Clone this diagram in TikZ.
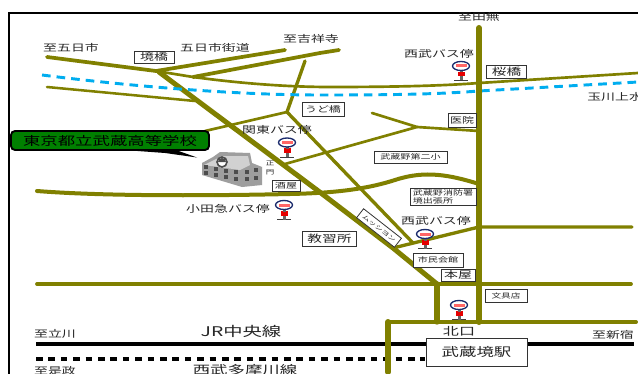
\documentclass[tikz,border=0pt]{standalone}
\usepackage{fontspec}
\newfontfamily\jp[FakeStretch=1.45]{Noto Sans CJK JP}
\newcommand{\jpsz}[1]{\jp\fontsize{#1}{#1}\selectfont}
\definecolor{road}{HTML}{808000}
\definecolor{busblue}{HTML}{1A2A6C}
\tikzset{
  roadline/.style={draw=road,line width=#1,line cap=round,line join=round},
  txt/.style={font=\jpsz{7.2},inner sep=0pt,text=black!85},
  boxed/.style={draw=black!80,fill=white,line width=.6pt,inner sep=0pt,anchor=center,text=black!85},
  busstop/.pic={
    \fill[black!75] (-7,9.5) rectangle (7,10.5);
    \fill[black!60] (-1.5,5) rectangle (1.5,10);
    \fill[red!90!black] (-3.5,1.5) rectangle (3.5,6);
    \fill[black!60] (-1.5,-.5) rectangle (1.5,2);
    \draw[busblue,fill=white,line width=1pt] (0,-4.5) ellipse (8.5 and 4.5);
    \fill[red!60!white] (-5.5,-6) rectangle (5.5,-3);
  },
}
\begin{document}
\begin{tikzpicture}[x=.75pt,y=-.75pt]
\useasboundingbox (0,0) rectangle (638,374);
\fill[white] (0,0) rectangle (638,374);
% frame
\coordinate (fa) at (9,374); \coordinate (fb) at (9,13); \coordinate (fc) at (638,13);
\draw[black,line width=1.25pt] (fa) -- (fb) -- (fc);
% roads
\coordinate (sk) at (156,71); \coordinate (ji) at (193,77); \coordinate (ud) at (287,112);
\coordinate (kk) at (417,127);
\path[roadline=1.9pt] (47,87) -- (195,101);
\path[roadline=2pt] (sk) -- (ji) .. controls (230,82) and (280,87) .. (330,87) .. controls (390,87) and (440,86) .. (479,83) -- (638,73);
\path[roadline=2.8pt] (47,57) -- (sk) -- (285,50);
\path[roadline=2.8pt] (ji) -- (320,53) -- (339,50);
\path[roadline=2.5pt] (305,61) -- (ud);
\path[roadline=2pt] (ud) -- (205,131);
\path[roadline=2.5pt] (ud) -- (360,188) -- (413,243);
\path[roadline=2pt] (285,164) -- (kk) -- (372,113);
\path[roadline=2pt] (kk) -- (479,131);
\path[roadline=3pt] (37,191) .. controls (100,196) and (200,196) .. (290,194) .. controls (340,193) and (370,188) .. (395,180) .. controls (425,170) and (450,175) .. (479,184);
\path[roadline=3.75pt] (159,72) -- (317,190) -- (393,248) -- (437,284);
\path[roadline=2.5pt] (393,248) -- (479,227) -- (632,227);
\path[roadline=2.8pt] (37,284) -- (631,284);
\path[draw=cyan,line width=2.2pt,dash pattern=on 6.5pt off 4.5pt] (42,75) .. controls (120,85) and (230,95) .. (320,95) .. controls (400,95) and (440,94) .. (479,91) -- (638,82);
\path[roadline=4.5pt] (479,28) -- (479,322);
\path[roadline=4pt] (437,284) -- (437,322);
\path[roadline=3pt] (636,322) -- (388,322);
% rails
\coordinate (rl) at (36,344); \coordinate (rr) at (634,344);
\draw[black,line width=3pt] (rl) -- (rr);
\coordinate (dl) at (36,359); \coordinate (dr) at (425,359);
\draw[black,line width=3pt,dash pattern=on 5pt off 4.3pt] (dl) -- (dr);
\path[roadline=4.5pt] (388,322) -- (388,372);
% station
\node[boxed,minimum width=75.7pt,minimum height=21pt,font=\jpsz{9}] (eki) at (476.5,352) {武蔵境駅};
% callout
\fill[black] (110,149) -- (165,153) -- (197,157.5) -- (173,149) -- cycle;
\draw[black,fill=green!50!black,line width=1.4pt,rounded corners=3pt] (11,131) rectangle (209,150);
\node[font=\jpsz{9},inner sep=0pt] (school) at (110,140.5) {東京都立武蔵高等学校};
% building
\fill[black!38] (202,163) -- (213,157) -- (220,152) -- (250,153) -- (252,163) -- (262,167) -- (262,185) -- (242,187) -- (202,175) -- cycle;
\fill[black!18] (204,165) -- (214,160) -- (222,156) -- (248,156) -- (250,165) -- (240,170) -- cycle;
\foreach \px/\py in {206/167,206/173,216/169,216/175,226/171,226/177,236/172,236/179,247/172,247/179,256/170,256/178}
  \fill[black!70] (\px-2,\py-2) rectangle (\px+2,\py+2);
\draw[black!70,fill=white,line width=1.2pt] (222,162) circle (5);
\fill[black!70] (218,162) arc (180:360:4);
% bus stops
\pic (bs1) at (287,147) {busstop};
\pic (bs2) at (284,209.5) {busstop};
\pic (bs3) at (461,70.5) {busstop};
\pic (bs4) at (425,238.5) {busstop};
\pic (bs5) at (459,309.5) {busstop};
% labels
\node[txt] (t1) at (71,48) {至五日市};
\node[txt] (t2) at (215,48) {五日市街道};
\node[txt] (t3) at (311,39) {至吉祥寺};
\node[txt] (t4) at (479,17) {至田無};
\node[txt] (t5) at (439,54) {西武バス停};
\node[txt,anchor=west] (t6) at (587,97) {玉川上水};
\node[txt] (t7) at (277,130) {関東バス停};
\node[txt] (t8) at (228,209) {小田急バス停};
\node[txt] (t9) at (436,221) {西武バス停};
\node[txt,font=\jpsz{8.3}] (t10) at (459,331) {北口};
\node[txt] (t11) at (613,335) {至新宿};
\node[txt] (t12) at (55,334) {至立川};
\node[txt,font=\jpsz{10}] (t13) at (241,331) {JR中央線};
\node[txt] (t14) at (55,371) {至是政};
\node[txt,font=\jpsz{9}] (t15) at (245,370) {西武多摩川線};
\node[txt,align=center,font=\jp\fontsize{4.4}{6.8}\selectfont] (t16) at (270,168) {正\\門};
% boxes
\node[boxed,font=\jpsz{7.2},minimum width=30pt,minimum height=9pt] (b1) at (154,57) {境橋};
\node[boxed,font=\jpsz{7.6},minimum width=30.5pt,minimum height=10pt] (b2) at (506.5,72) {桜橋};
\node[boxed,font=\jpsz{6.2},minimum width=31.5pt,minimum height=10.5pt] (b3) at (323,109) {うど橋};
\node[boxed,font=\jpsz{6.2},minimum width=21pt,minimum height=10.5pt] (b4) at (462,120) {医院};
\node[boxed,font=\jpsz{5.2},minimum width=54.7pt,minimum height=9pt] (b5) at (410.5,157) {武蔵野第二小};
\node[boxed,font=\jpsz{5.7},minimum width=21pt,minimum height=8.2pt] (b6) at (286,185.5) {酒屋};
\node[boxed,align=left,font=\jp\fontsize{5.2}{6}\selectfont,minimum width=49.5pt,minimum height=12.7pt] (b7) at (443,196.5) {武蔵野消防署\\境出張所};
\node[boxed,font=\jpsz{7.6},minimum width=41pt,minimum height=11.2pt] (b8) at (329.5,238.5) {教習所};
\node[boxed,font=\jpsz{5.2},minimum width=37.5pt,minimum height=10.5pt] (b9) at (438,260) {市民会館};
\node[boxed,font=\jpsz{7.2},minimum width=25.5pt,minimum height=9pt] (b10) at (458,275) {本屋};
\node[boxed,font=\jpsz{5},minimum width=31.5pt,minimum height=9.7pt] (b11) at (506,295.5) {文具店};
\node[boxed,rotate=-38,font=\jpsz{4.2},minimum width=36pt,minimum height=8.5pt] (b12) at (379,228) {ムッシヨン};
\end{tikzpicture}
\end{document}
